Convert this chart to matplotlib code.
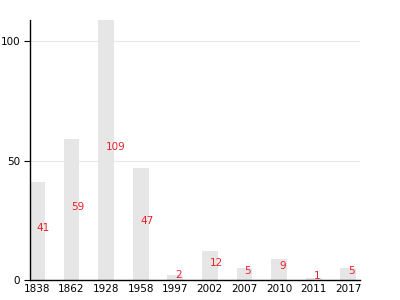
import matplotlib.pyplot as plt
import numpy as np

years = ['1838', '1862', '1928', '1958', '1997', '2002', '2007', '2010', '2011', '2017']
counts = [41, 59, 109, 47, 2, 12, 5, 9, 1, 5]

fig = plt.figure(figsize=(4, 3), dpi=100)
ax = fig.add_axes([0.075, 0.0667, 0.825, 0.8667])

x = np.arange(len(years))
ax.bar(x, counts, width=0.46, color='#e6e6e6', zorder=2)

for i, v in enumerate(counts):
    ax.text(i, v / 2 + 1.3, str(v), color='#e8202a', fontsize=7.5,
            ha='left', va='center', zorder=3)

ax.set_xlim(-0.2, 9.34)
ax.set_ylim(0, 109)
ax.set_xticks(x)
ax.set_xticklabels(years)
ax.set_yticks([0, 50, 100])
ax.yaxis.grid(True, color='#e8e8e8', lw=0.8, zorder=0)
ax.tick_params(axis='x', length=0, labelsize=7.5, pad=3)
ax.tick_params(axis='y', length=4, width=0.8, labelsize=7.5, pad=3)
for s in ['top', 'right']:
    ax.spines[s].set_visible(False)
ax.spines['left'].set_linewidth(1)
ax.spines['bottom'].set_linewidth(1)

fig.savefig('out.png', dpi=100)
